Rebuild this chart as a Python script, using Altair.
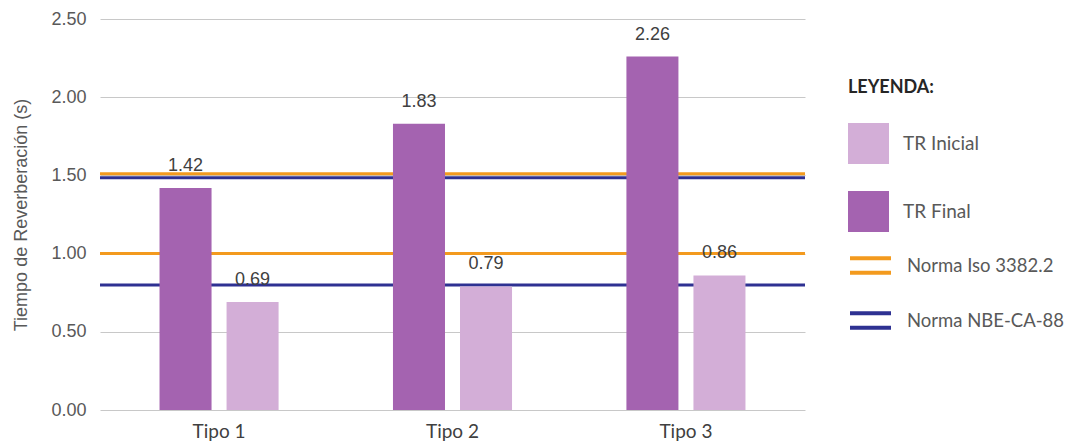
import altair as alt
import pandas as pd

tipos = ["Tipo 1", "Tipo 2", "Tipo 3"]
tr_final = [1.42, 1.83, 2.26]
tr_inicial = [0.69, 0.79, 0.86]
series_names = ["TR Inicial", "TR Final"]
bar_colors = ["#d3aed7", "#a463b0"]

norma_names = ["Norma Iso 3382.2", "Norma NBE-CA-88"]
norma_colors = ["#f39a1e", "#2e3192"]
iso_values = [1.0, 1.51]
nbe_values = [0.8, 1.485]

rows = []
for t, f, i in zip(tipos, tr_final, tr_inicial):
    rows.append({"tipo": t, "serie": "TR Final", "valor": f})
    rows.append({"tipo": t, "serie": "TR Inicial", "valor": i})
bars_df = pd.DataFrame(rows)

lines_df = pd.DataFrame(
    [{"norma": norma_names[0], "valor": v} for v in iso_values]
    + [{"norma": norma_names[1], "valor": v} for v in nbe_values]
)

y_scale = alt.Scale(domain=[0, 2.5], nice=False)
y_axis = alt.Axis(
    values=[0, 0.5, 1.0, 1.5, 2.0, 2.5],
    format=".2f",
    title="Tiempo de Reverberación (s)",
    domain=False,
    ticks=False,
    labelPadding=14,
    labelFontSize=18,
    labelColor="#595959",
    labelFont="Liberation Sans",
    titleFont="Liberation Sans",
    titleFontSize=18,
    titleFontWeight="normal",
    titleColor="#595959",
    titlePadding=20,
    gridColor="#c8c8c8",
    gridWidth=1,
)

x_enc = alt.X(
    "tipo:N",
    sort=tipos,
    scale=alt.Scale(paddingInner=0.49, paddingOuter=0.255),
    axis=alt.Axis(
        title=None,
        labelAngle=0,
        domain=False,
        ticks=False,
        labelPadding=12,
        labelFontSize=19,
        labelColor="#404040",
        labelFont="Lato",
    ),
)

xoff = alt.XOffset(
    "serie:N",
    sort=["TR Final", "TR Inicial"],
    scale=alt.Scale(paddingInner=0.224, paddingOuter=0),
)

rules = alt.Chart(lines_df).mark_rule(strokeWidth=3).encode(
    y=alt.Y("valor:Q", scale=y_scale, axis=y_axis),
    stroke=alt.Stroke(
        "norma:N",
        scale=alt.Scale(domain=norma_names, range=norma_colors),
        legend=alt.Legend(
            title=None,
            orient="none",
            legendX=748,
            legendY=224,
            symbolType="M-1,-0.35H1M-1,0.35H1",
            symbolSize=1681,
            symbolStrokeWidth=4,
            rowPadding=17,
            labelOffset=14,
            labelFontSize=18.5,
            labelFont="Lato",
            labelColor="#595959",
            labelLimit=300,
        ),
    ),
)

bars = alt.Chart(bars_df).mark_bar().encode(
    x=x_enc,
    xOffset=xoff,
    y=alt.Y("valor:Q", scale=y_scale, axis=y_axis),
    color=alt.Color(
        "serie:N",
        scale=alt.Scale(domain=series_names, range=bar_colors),
        legend=alt.Legend(
            title="LEYENDA:",
            orient="none",
            legendX=748,
            legendY=60,
            symbolType="square",
            symbolSize=1681,
            symbolStrokeWidth=0,
            symbolOpacity=1,
            rowPadding=27,
            labelOffset=14,
            labelFontSize=19,
            labelFont="Lato",
            labelColor="#595959",
            labelLimit=300,
            titleFont="Lato",
            titleFontSize=18,
            titleFontWeight="bold",
            titleColor="#262626",
            titlePadding=26,
        ),
    ),
)

labels = alt.Chart(bars_df).mark_text(
    dy=-22, baseline="middle", align="center", fontSize=18,
    font="Liberation Sans", color="#404040",
).encode(
    x=x_enc,
    xOffset=xoff,
    y=alt.Y("valor:Q", scale=y_scale, axis=y_axis),
    text=alt.Text("valor:Q", format=".2f"),
)

chart = (
    alt.layer(rules, bars, labels)
    .resolve_scale(color="independent", stroke="independent")
    .properties(
        width=705,
        height=391,
        padding={"left": 100, "top": 19, "right": 267, "bottom": 38},
        autosize=alt.AutoSizeParams(type="none"),
        background="white",
    )
    .configure_view(stroke=None)
)

chart.save("out.html", embed_options={"renderer": "svg", "actions": False})
